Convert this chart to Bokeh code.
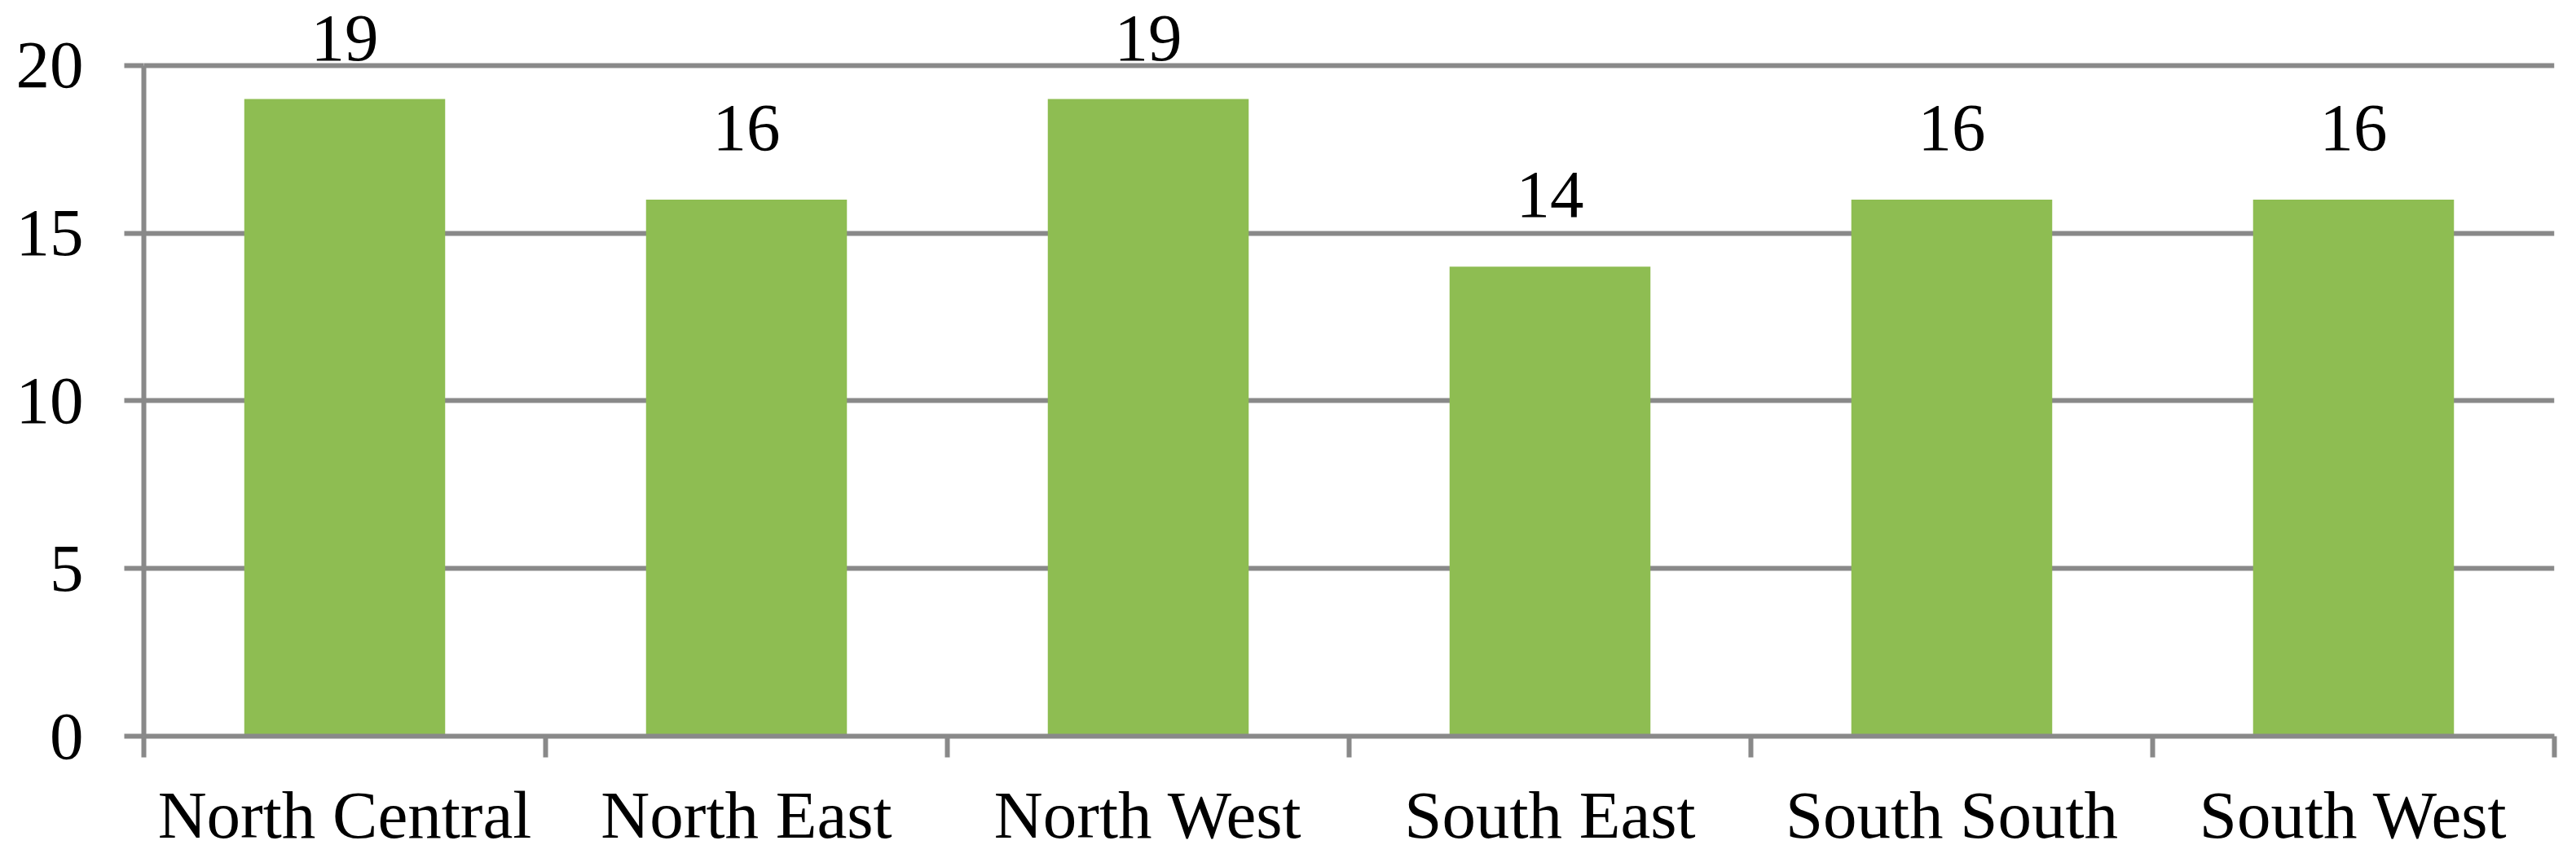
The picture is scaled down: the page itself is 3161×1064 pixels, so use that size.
import numpy as np
from bokeh.plotting import figure
from bokeh.models import ColumnDataSource, FixedTicker, Range1d
from bokeh.core.properties import value
from bokeh.embed import file_html
from bokeh.resources import INLINE

regions = ["North Central", "North East", "North West", "South East", "South South", "South West"]
counts = [19, 16, 19, 14, 16, 16]
y_ticks = [0, 5, 10, 15, 20]

GRAY = "#898989"
GREEN = "#8EBD52"
FONT = "Liberation Serif"
FS = "83px"

n = len(regions)
centers = np.arange(n) + 0.5
vals = np.array(counts, dtype=float)
label_y = np.minimum(vals + 1.335, max(y_ticks))

src = ColumnDataSource(dict(x=centers, top=vals, ly=label_y, txt=[str(c) for c in counts]))

p = figure(width=3145, height=1048, output_backend="svg", toolbar_location=None,
           x_range=Range1d(0, n), y_range=Range1d(0, 21.89),
           min_border_left=176, min_border_right=11, min_border_top=2, min_border_bottom=143)
p.outline_line_color = None
p.background_fill_color = "white"
p.border_fill_color = "white"

p.vbar(x="x", top="top", width=0.5, bottom=0, source=src, fill_color=GREEN, line_color=None)
p.text(x="x", y="ly", text="txt", source=src, text_align="center", text_baseline="alphabetic",
       y_offset=-33,
       text_font=value(FONT), text_font_size=FS, text_color="black")

# y axis
p.yaxis.ticker = FixedTicker(ticks=y_ticks)
p.yaxis.bounds = (0, 20)
p.yaxis.axis_line_color = GRAY
p.yaxis.axis_line_width = 6
p.yaxis.major_tick_line_color = GRAY
p.yaxis.major_tick_line_width = 6
p.yaxis.major_tick_out = 24
p.yaxis.major_tick_in = 0
p.yaxis.minor_tick_line_color = None
p.yaxis.major_label_standoff = 50
p.yaxis.major_label_text_font = FONT
p.yaxis.major_label_text_font_size = FS
p.yaxis.major_label_text_color = "black"

# x axis: labels at centers, tick marks at category boundaries
p.xaxis.ticker = FixedTicker(ticks=list(centers), minor_ticks=list(range(n + 1)))
p.xaxis.major_label_overrides = {float(c): r for c, r in zip(centers, regions)}
p.xaxis.axis_line_color = GRAY
p.xaxis.axis_line_width = 6
p.xaxis.major_tick_line_color = None
p.xaxis.major_tick_out = 0
p.xaxis.major_tick_in = 0
p.xaxis.minor_tick_line_color = GRAY
p.xaxis.minor_tick_line_width = 6
p.xaxis.minor_tick_out = 26
p.xaxis.minor_tick_in = 0
p.xaxis.major_label_standoff = 24
p.xaxis.major_label_text_font = FONT
p.xaxis.major_label_text_font_size = FS
p.xaxis.major_label_text_color = "black"

p.xgrid.grid_line_color = None
p.ygrid.ticker = FixedTicker(ticks=y_ticks)
p.ygrid.grid_line_color = GRAY
p.ygrid.grid_line_width = 6

open("out.html", "w").write(file_html(p, INLINE))
